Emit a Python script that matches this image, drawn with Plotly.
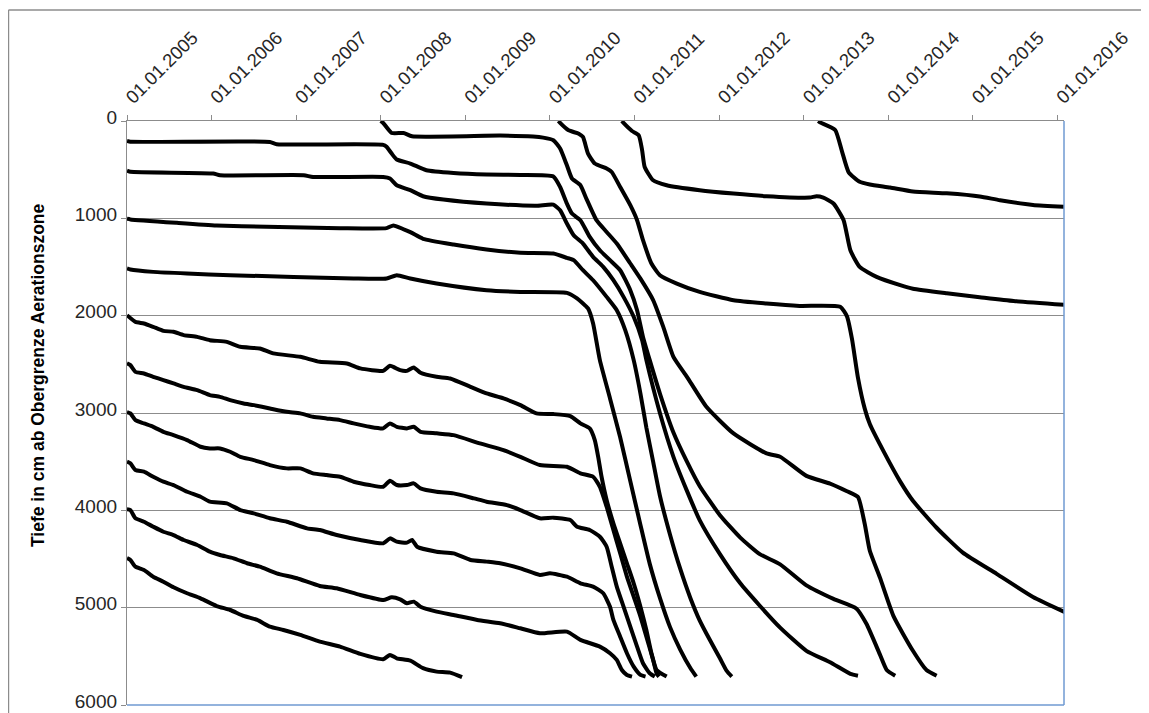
import plotly.graph_objects as go
from datetime import datetime

# Each curve: (decimal year, depth in cm)
S200 = [(2005.00, 205), (2005.04, 213), (2006.69, 215), (2006.77, 238), (2008.03, 245), (2008.07, 265),
        (2008.13, 335), (2008.19, 396), (2008.35, 437), (2008.54, 506), (2008.86, 534), (2009.25, 550),
        (2009.65, 555), (2010.04, 570), (2010.12, 678), (2010.20, 848), (2010.26, 951), (2010.36, 1019),
        (2010.47, 1191), (2010.59, 1328), (2010.71, 1430), (2010.83, 1533), (2010.95, 1738), (2011.03, 1944),
        (2011.10, 2218), (2011.18, 2457), (2011.30, 2800), (2011.46, 3200), (2011.62, 3500), (2011.77, 3750),
        (2012.01, 4050), (2012.25, 4280), (2012.48, 4450), (2012.72, 4555), (2013.03, 4771), (2013.35, 4910),
        (2013.62, 5008), (2013.74, 5166), (2013.90, 5482), (2013.98, 5640), (2014.08, 5699)]

S500 = [(2005.00, 510), (2005.04, 522), (2006.02, 539), (2006.10, 557), (2007.09, 557), (2007.20, 575),
        (2008.03, 575), (2008.11, 591), (2008.19, 660), (2008.35, 711), (2008.50, 773), (2008.74, 807),
        (2009.25, 848), (2009.84, 870), (2010.04, 860), (2010.12, 917), (2010.20, 1053), (2010.28, 1174),
        (2010.39, 1259), (2010.51, 1396), (2010.63, 1499), (2010.75, 1636), (2010.87, 1807), (2010.99, 2012),
        (2011.09, 2252), (2011.14, 2457), (2011.30, 3000), (2011.46, 3450), (2011.62, 3800), (2011.77, 4100),
        (2012.01, 4450), (2012.25, 4750), (2012.48, 4980), (2012.72, 5205), (2013.03, 5443), (2013.31, 5561),
        (2013.55, 5680), (2013.64, 5699)]

S1000 = [(2005.00, 1005), (2005.04, 1011), (2005.59, 1046), (2006.06, 1073), (2006.65, 1087), (2007.52, 1101),
         (2008.07, 1101), (2008.15, 1073), (2008.35, 1142), (2008.50, 1210), (2008.86, 1269), (2009.25, 1320),
         (2009.65, 1354), (2010.04, 1362), (2010.20, 1406), (2010.28, 1430), (2010.39, 1533), (2010.51, 1636),
         (2010.67, 1807), (2010.79, 1944), (2010.89, 2149), (2010.99, 2457), (2011.07, 2800), (2011.14, 3150),
         (2011.22, 3500), (2011.30, 3850), (2011.42, 4250), (2011.54, 4600), (2011.66, 4900), (2011.77, 5130),
         (2011.89, 5330), (2012.01, 5520), (2012.09, 5650), (2012.15, 5708)]

S1500 = [(2005.00, 1515), (2005.04, 1526), (2005.31, 1550), (2005.71, 1567), (2006.22, 1584), (2006.97, 1602),
         (2007.68, 1618), (2008.07, 1618), (2008.19, 1584), (2008.35, 1618), (2008.66, 1669), (2009.25, 1738),
         (2009.65, 1756), (2010.20, 1766), (2010.32, 1823), (2010.45, 1926), (2010.51, 2080), (2010.59, 2457),
         (2010.71, 2850), (2010.83, 3250), (2010.95, 3700), (2011.07, 4150), (2011.18, 4550), (2011.30, 4900),
         (2011.42, 5200), (2011.54, 5430), (2011.66, 5620), (2011.73, 5708)]

S2000 = [(2005.00, 1995), (2005.10, 2064), (2005.20, 2080), (2005.31, 2115), (2005.43, 2156), (2005.55, 2166),
         (2005.67, 2200), (2005.83, 2218), (2005.98, 2252), (2006.18, 2269), (2006.34, 2320), (2006.57, 2337),
         (2006.73, 2388), (2007.05, 2423), (2007.28, 2474), (2007.60, 2491), (2007.76, 2542), (2008.03, 2567),
         (2008.11, 2515), (2008.23, 2560), (2008.31, 2567), (2008.39, 2532), (2008.47, 2587), (2008.66, 2628),
         (2008.82, 2645), (2009.06, 2731), (2009.25, 2799), (2009.45, 2850), (2009.65, 2919), (2009.84, 3004),
         (2010.04, 3011), (2010.24, 3032), (2010.36, 3107), (2010.47, 3158), (2010.53, 3278), (2010.57, 3450),
         (2010.61, 3655), (2010.67, 3894), (2010.75, 4133), (2010.83, 4339), (2010.91, 4544), (2010.99, 4750),
         (2011.07, 4990), (2011.14, 5229), (2011.20, 5468), (2011.26, 5640), (2011.38, 5708)]

S2500 = [(2005.00, 2490), (2005.04, 2508), (2005.10, 2577), (2005.20, 2594), (2005.31, 2628), (2005.43, 2662),
         (2005.55, 2696), (2005.67, 2731), (2005.83, 2765), (2005.98, 2816), (2006.10, 2834), (2006.22, 2868),
         (2006.38, 2902), (2006.50, 2919), (2006.69, 2953), (2006.89, 2988), (2007.05, 3004), (2007.20, 3039),
         (2007.36, 3056), (2007.52, 3073), (2007.68, 3107), (2007.87, 3142), (2008.03, 3158), (2008.11, 3107),
         (2008.19, 3142), (2008.31, 3158), (2008.39, 3142), (2008.47, 3193), (2008.66, 3209), (2008.86, 3227),
         (2009.17, 3312), (2009.45, 3381), (2009.65, 3450), (2009.88, 3535), (2010.20, 3552), (2010.36, 3620),
         (2010.51, 3655), (2010.59, 3758), (2010.67, 3963), (2010.75, 4202), (2010.83, 4441), (2010.91, 4682),
         (2010.99, 4887), (2011.07, 5092), (2011.14, 5298), (2011.22, 5537), (2011.26, 5674), (2011.29, 5708)]

S3000 = [(2005.00, 2990), (2005.04, 3004), (2005.10, 3073), (2005.20, 3107), (2005.31, 3142), (2005.43, 3193),
         (2005.55, 3227), (2005.71, 3278), (2005.87, 3347), (2005.98, 3364), (2006.10, 3364), (2006.22, 3398),
         (2006.34, 3450), (2006.50, 3484), (2006.69, 3535), (2006.89, 3569), (2007.05, 3569), (2007.20, 3620),
         (2007.36, 3638), (2007.52, 3655), (2007.68, 3706), (2007.87, 3740), (2008.03, 3758), (2008.11, 3696),
         (2008.19, 3740), (2008.31, 3740), (2008.39, 3723), (2008.47, 3774), (2008.66, 3809), (2008.86, 3826),
         (2009.10, 3877), (2009.25, 3911), (2009.49, 3946), (2009.65, 3997), (2009.88, 4082), (2010.04, 4075),
         (2010.24, 4100), (2010.32, 4168), (2010.47, 4202), (2010.59, 4271), (2010.67, 4374), (2010.73, 4579),
         (2010.79, 4784), (2010.87, 4990), (2010.95, 5195), (2011.03, 5400), (2011.10, 5571), (2011.18, 5674),
         (2011.24, 5708)]

S3500 = [(2005.00, 3500), (2005.04, 3517), (2005.10, 3586), (2005.20, 3603), (2005.31, 3655), (2005.43, 3706),
         (2005.55, 3740), (2005.71, 3809), (2005.87, 3860), (2005.98, 3911), (2006.18, 3928), (2006.34, 3997),
         (2006.50, 4031), (2006.69, 4082), (2006.89, 4117), (2007.13, 4185), (2007.28, 4202), (2007.48, 4254),
         (2007.76, 4305), (2008.03, 4339), (2008.11, 4288), (2008.19, 4322), (2008.31, 4332), (2008.37, 4305),
         (2008.43, 4374), (2008.66, 4425), (2008.86, 4442), (2009.06, 4510), (2009.25, 4527), (2009.41, 4544),
         (2009.65, 4596), (2009.88, 4664), (2010.00, 4647), (2010.20, 4682), (2010.36, 4750), (2010.51, 4784),
         (2010.63, 4852), (2010.71, 4990), (2010.75, 5126), (2010.83, 5298), (2010.91, 5468), (2010.99, 5606),
         (2011.07, 5691), (2011.13, 5708)]

S4000 = [(2005.00, 3990), (2005.04, 3997), (2005.10, 4082), (2005.20, 4117), (2005.31, 4168), (2005.43, 4220),
         (2005.55, 4254), (2005.67, 4305), (2005.83, 4356), (2005.98, 4425), (2006.10, 4459), (2006.26, 4493),
         (2006.42, 4544), (2006.57, 4579), (2006.77, 4647), (2007.01, 4698), (2007.28, 4777), (2007.48, 4801),
         (2007.76, 4870), (2008.03, 4921), (2008.13, 4894), (2008.23, 4914), (2008.31, 4955), (2008.39, 4938),
         (2008.47, 4990), (2008.66, 5041), (2008.86, 5075), (2009.14, 5126), (2009.41, 5160), (2009.65, 5212),
         (2009.88, 5263), (2010.20, 5246), (2010.36, 5331), (2010.59, 5400), (2010.71, 5468), (2010.79, 5537),
         (2010.85, 5640), (2010.91, 5691), (2010.97, 5708)]

S4500 = [(2005.00, 4490), (2005.04, 4510), (2005.10, 4579), (2005.20, 4613), (2005.31, 4682), (2005.43, 4733),
         (2005.55, 4791), (2005.71, 4852), (2005.87, 4904), (2006.06, 4983), (2006.22, 5024), (2006.38, 5085),
         (2006.54, 5126), (2006.69, 5195), (2006.85, 5229), (2007.05, 5280), (2007.28, 5349), (2007.52, 5400),
         (2007.76, 5475), (2008.03, 5530), (2008.11, 5486), (2008.19, 5520), (2008.35, 5544), (2008.50, 5622),
         (2008.66, 5657), (2008.82, 5667), (2008.96, 5714)]

N2008 = [(2008.00, 0), (2008.03, 20), (2008.13, 123), (2008.27, 123), (2008.37, 157), (2009.41, 150),
         (2009.80, 160), (2009.92, 171), (2010.04, 198), (2010.12, 283), (2010.20, 455), (2010.26, 591),
         (2010.36, 660), (2010.43, 797), (2010.55, 1019), (2010.67, 1140), (2010.79, 1259), (2010.95, 1464),
         (2011.07, 1620), (2011.22, 1840), (2011.34, 2115), (2011.46, 2423), (2011.62, 2628), (2011.85, 2936),
         (2012.17, 3210), (2012.56, 3415), (2012.72, 3449), (2013.03, 3646), (2013.31, 3725), (2013.51, 3804),
         (2013.64, 3864), (2013.72, 4140), (2013.78, 4416), (2013.90, 4692), (2014.06, 5087), (2014.29, 5443),
         (2014.45, 5640), (2014.57, 5699)]

N2010A = [(2010.10, 0), (2010.12, 20), (2010.22, 96), (2010.34, 130), (2010.39, 164), (2010.45, 335),
          (2010.53, 437), (2010.67, 489), (2010.73, 524), (2010.83, 678), (2010.95, 865), (2011.03, 1019),
          (2011.10, 1225), (2011.20, 1464), (2011.30, 1584), (2011.50, 1670), (2011.77, 1756), (2012.17, 1841),
          (2012.56, 1875), (2012.95, 1900), (2013.43, 1909), (2013.51, 2007), (2013.57, 2244), (2013.64, 2639),
          (2013.72, 2955), (2013.78, 3113), (2013.94, 3389), (2014.14, 3705), (2014.29, 3902), (2014.57, 4179),
          (2014.88, 4435), (2015.28, 4653), (2015.71, 4890), (2016.09, 5047)]

N2010B = [(2010.85, 0), (2010.87, 20), (2010.97, 103), (2011.05, 147), (2011.09, 301), (2011.12, 472),
          (2011.22, 609), (2011.38, 660), (2011.77, 711), (2012.17, 746), (2012.56, 773), (2013.07, 787),
          (2013.15, 773), (2013.23, 787), (2013.35, 848), (2013.47, 1019), (2013.55, 1328), (2013.66, 1499),
          (2013.86, 1602), (2014.14, 1687), (2014.29, 1723), (2014.69, 1770), (2015.08, 1810), (2015.48, 1849),
          (2016.09, 1889)]

N2013 = [(2013.17, 0), (2013.19, 13), (2013.37, 92), (2013.45, 309), (2013.53, 527), (2013.66, 625),
         (2013.78, 653), (2014.02, 684), (2014.29, 724), (2014.69, 743), (2015.08, 775), (2015.32, 814),
         (2015.71, 862), (2016.09, 882)]

CURVES = [S200, S500, S1000, S1500, S2000, S2500, S3000, S3500, S4000, S4500,
          N2008, N2010A, N2010B, N2013]

Y_TITLE = "Tiefe in cm ab Obergrenze Aerationszone"
X_RANGE = ["2005-01-01", "2016-01-29"]
Y_RANGE = [6000, 0]


def to_date(yf):
    y = int(yf)
    start = datetime(y, 1, 1)
    end = datetime(y + 1, 1, 1)
    return start + (end - start) * (yf - y)


fig = go.Figure()
for c in CURVES:
    fig.add_trace(go.Scatter(
        x=[to_date(t) for t, _ in c],
        y=[d for _, d in c],
        mode="lines",
        line=dict(color="black", width=4, shape="spline", smoothing=0.5),
        hoverinfo="skip",
    ))

axis_gray = "#8c8c8c"
fig.update_layout(
    width=1141, height=705,
    margin=dict(l=119, r=85, t=113, b=8, autoexpand=False),
    paper_bgcolor="white", plot_bgcolor="white",
    showlegend=False,
    font=dict(family="Liberation Sans, Arial, sans-serif", color="#262626"),
    xaxis=dict(
        type="date", side="top", range=X_RANGE, automargin=False,
        tick0="2005-01-01", dtick="M12", tickformat="%d.%m.%Y", tickangle=-45,
        showgrid=False, showline=True, linecolor=axis_gray, linewidth=1.3,
        ticks="outside", ticklen=5, tickcolor=axis_gray, tickwidth=1,
        tickfont=dict(size=18.5), zeroline=False, ticklabeloverflow="allow",
    ),
    yaxis=dict(
        range=Y_RANGE, tick0=0, dtick=1000, automargin=False,
        showgrid=True, gridcolor=axis_gray, gridwidth=1,
        showline=True, linecolor=axis_gray, linewidth=1.3,
        ticks="outside", ticklen=5, tickcolor=axis_gray,
        tickfont=dict(size=19), zeroline=False, ticklabeloverflow="allow",
        ticklabelshift=4,
    ),
    shapes=[
        dict(type="line", xref="paper", yref="paper", x0=1, x1=1, y0=0, y1=1,
             line=dict(color="#6f9ad2", width=1.5)),
        dict(type="line", xref="paper", yref="paper", x0=0, x1=1, y0=0, y1=0,
             line=dict(color="#6f9ad2", width=1.5)),
        dict(type="line", xref="paper", yref="paper", x0=-0.1265, x1=1.1, y0=1.19, y1=1.19,
             line=dict(color="#8c8c8c", width=1.5)),
        dict(type="line", xref="paper", yref="paper", x0=-0.1265, x1=-0.1265, y0=-0.05, y1=1.19,
             line=dict(color="#8c8c8c", width=1.5)),
    ],
    annotations=[
        dict(text="<b>" + Y_TITLE + "</b>", xref="paper", yref="paper",
             x=-0.095, y=0.565, textangle=-90, showarrow=False,
             font=dict(size=17.5, color="black"), xanchor="center", yanchor="middle"),
    ],
)

fig.write_html("out.html")
